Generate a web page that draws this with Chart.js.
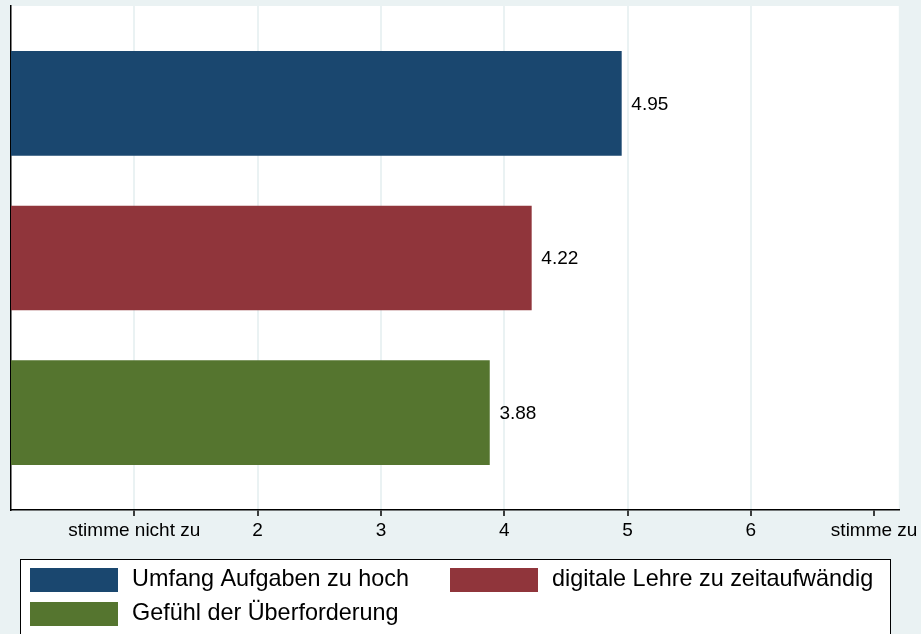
<!DOCTYPE html>
<html>
<head>
<meta charset="utf-8">
<script src="https://cdn.jsdelivr.net/npm/chart.js@4/dist/chart.umd.min.js"></script>
<style>
  html, body { margin: 0; padding: 0; background: #EAF2F3; }
  #wrap { width: 921px; height: 634px; }
</style>
</head>
<body>
<div id="wrap"><canvas id="c" width="921" height="634"></canvas></div>
<script>
// ---- data ----
const seriesLabels = ['Umfang Aufgaben zu hoch', 'digitale Lehre zu zeitaufwändig', 'Gefühl der Überforderung'];
const seriesValues = [4.95, 4.22, 3.88];
const seriesPositions = [1, 2, 3];
const seriesColors = ['#1A476F', '#90353B', '#55752F'];
const xTickValues = [1, 2, 3, 4, 5, 6, 7];
const xTickLabels = ['stimme nicht zu', '2', '3', '4', '5', '6', 'stimme zu'];

const FONT = '"Liberation Sans", Arial, sans-serif';
const BG = '#EAF2F3';

const datasets = seriesLabels.map((lab, i) => ({
  label: lab,
  data: [{ x: seriesValues[i], y: seriesPositions[i] }],
  backgroundColor: seriesColors[i],
  borderWidth: 0,
  barThickness: 104,
  grouped: false
}));

const bgPlugin = {
  id: 'bg',
  beforeDraw(chart) {
    const { ctx, chartArea: a } = chart;
    ctx.save();
    ctx.fillStyle = BG;
    ctx.fillRect(0, 0, chart.width, chart.height);
    ctx.fillStyle = '#FFFFFF';
    ctx.fillRect(a.left, a.top, a.right - a.left, a.bottom - a.top);
    ctx.restore();
  }
};

const valueLabels = {
  id: 'valueLabels',
  afterDatasetsDraw(chart) {
    const ctx = chart.ctx;
    ctx.save();
    ctx.font = '19px ' + FONT;
    ctx.fillStyle = '#000';
    ctx.textAlign = 'left';
    ctx.textBaseline = 'middle';
    chart.data.datasets.forEach((ds, i) => {
      const meta = chart.getDatasetMeta(i);
      meta.data.forEach((el, j) => {
        ctx.fillText(ds.data[j].x.toFixed(2), el.x + 10, el.y + 1);
      });
    });
    ctx.restore();
  }
};

const boxLegend = {
  id: 'boxLegend',
  afterDraw(chart) {
    const ctx = chart.ctx;
    ctx.save();
    ctx.fillStyle = '#FFFFFF';
    ctx.fillRect(20, 559, 871, 90);
    ctx.strokeStyle = '#000';
    ctx.lineWidth = 1;
    ctx.strokeRect(20.5, 559.5, 870, 90);
    const cols = [30, 450];
    const rows = [568, 602];
    ctx.font = '23.4px ' + FONT;
    ctx.textBaseline = 'middle';
    ctx.textAlign = 'left';
    chart.data.datasets.forEach((ds, i) => {
      const x = cols[i % 2];
      const y = rows[Math.floor(i / 2)];
      ctx.fillStyle = ds.backgroundColor;
      ctx.fillRect(x, y, 88, 24);
      ctx.fillStyle = '#000';
      ctx.fillText(ds.label, x + 102, y + 12);
    });
    ctx.restore();
  }
};

new Chart(document.getElementById('c'), {
  type: 'bar',
  data: { datasets },
  plugins: [bgPlugin, valueLabels, boxLegend],
  options: {
    indexAxis: 'y',
    responsive: false,
    animation: false,
    layout: { padding: { left: 11, top: 6, right: 21, bottom: 0 } },
    plugins: { legend: { display: false }, tooltip: { enabled: false } },
    scales: {
      x: {
        type: 'linear',
        min: 0,
        max: 7.2,
        offset: false,
        afterBuildTicks(scale) { scale.ticks = xTickValues.map(v => ({ value: v })); },
        afterFit(scale) { scale.height = 124; },
        ticks: {
          autoSkip: false,
          maxRotation: 0,
          padding: 3,
          color: '#000',
          font: { family: FONT, size: 19 },
          callback: (v, idx) => xTickLabels[idx]
        },
        grid: {
          offset: false,
          color: (c) => (c.tick && c.tick.value === 7 ? 'rgba(0,0,0,0)' : BG),
          lineWidth: 2,
          tickColor: '#000',
          tickWidth: 1.5,
          tickLength: 6
        },
        border: { display: true, color: '#000', width: 1.5 }
      },
      y: {
        type: 'linear',
        min: 0.37,
        max: 3.63,
        reverse: true,
        offset: false,
        afterFit(scale) { scale.width = 0; },
        ticks: { display: false },
        grid: { display: false, drawTicks: false, offset: false },
        border: { display: true, color: '#000', width: 1.5 }
      }
    }
  }
});
</script>
</body>
</html>
